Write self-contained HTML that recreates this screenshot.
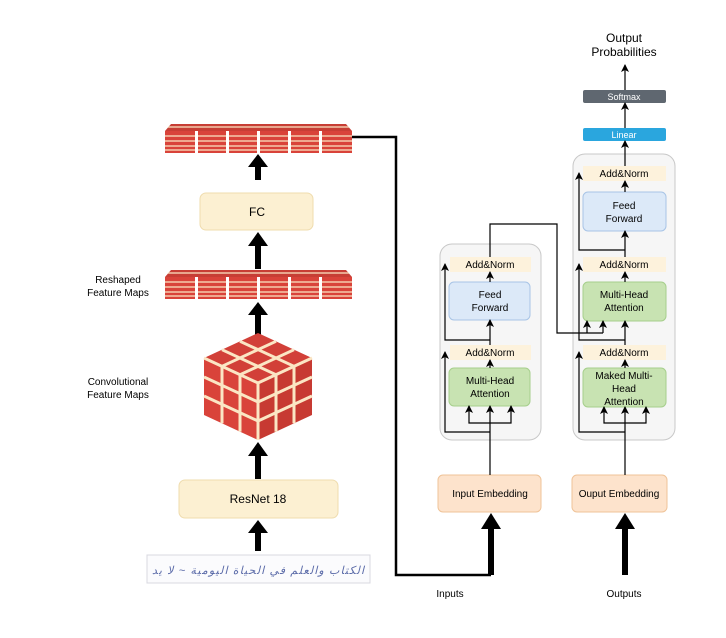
<!DOCTYPE html>
<html><head><meta charset="utf-8"><style>
body{margin:0;background:#fff}
svg{display:block;font-family:"Liberation Sans",sans-serif}
</style></head><body>
<svg width="726" height="638" viewBox="0 0 726 638" xmlns="http://www.w3.org/2000/svg">
<defs>
<marker id="a" markerWidth="8" markerHeight="8" refX="7" refY="4" orient="auto-start-reverse" markerUnits="userSpaceOnUse" viewBox="0 0 8 8">
<path d="M0,0 L8,4 L0,8 L2,4 z" fill="#000"/></marker>
<g id="slab">
<polygon points="171,0 346,0 352,7 165,7" fill="#c73e35"/>
<rect x="165" y="7" width="187" height="22" fill="#d9433a"/>
<g stroke="#fbe6c4" stroke-width="1.3">
<line x1="165" y1="12" x2="352" y2="12"/><line x1="165" y1="17" x2="352" y2="17"/><line x1="165" y1="22" x2="352" y2="22"/><line x1="165" y1="26" x2="352" y2="26"/>
<line x1="168" y1="3" x2="349" y2="3"/>
</g>
<g fill="#fff"><rect x="195" y="7" width="3" height="22"/><rect x="226" y="7" width="3" height="22"/><rect x="257" y="7" width="3" height="22"/><rect x="288" y="7" width="3" height="22"/><rect x="319" y="7" width="3" height="22"/></g>
</g>
</defs>

<use href="#slab" y="124"/>
<use href="#slab" y="270"/>
<g fill="#000">
<rect x="255" y="166" width="6" height="14"/><polygon points="248,167 258,154 268,167"/>
<rect x="255" y="245" width="6" height="24"/><polygon points="248,246 258,232 268,246"/>
<rect x="255" y="314" width="6" height="21"/><polygon points="248,315 258,302 268,315"/>
<rect x="255" y="455" width="6" height="24"/><polygon points="248,456 258,442 268,456"/>
<rect x="255" y="532" width="6" height="19"/><polygon points="248,533 258,520 268,533"/>
<rect x="488" y="528" width="6" height="47"/><polygon points="481,529 491,513 501,529"/>
<rect x="622" y="528" width="6" height="47"/><polygon points="615,529 625,513 635,529"/>
</g>
<rect x="200" y="193" width="113" height="37" rx="6" fill="#fcf0d2" stroke="#efdcae"/>
<text x="257" y="216" font-size="12" text-anchor="middle">FC</text>
<rect x="179" y="480" width="159" height="38" rx="6" fill="#fcf0d2" stroke="#efdcae"/>
<text x="258" y="503" font-size="12" text-anchor="middle">ResNet 18</text>
<polygon points="258,333 312,358 258,383 204,358" fill="#d24038"/>
<polygon points="204,358 258,383 258,440 204,415" fill="#d9433a"/>
<polygon points="258,383 312,358 312,415 258,440" fill="#c73a32"/>
<g stroke="#fbe6c4" stroke-width="3" fill="none">
<line x1="276" y1="341.3" x2="222" y2="366.3"/><line x1="294" y1="349.7" x2="240" y2="374.7"/>
<line x1="240" y1="341.3" x2="294" y2="366.3"/><line x1="222" y1="349.7" x2="276" y2="374.7"/>
<line x1="222" y1="366.3" x2="222" y2="423.3"/><line x1="240" y1="374.7" x2="240" y2="431.7"/>
<line x1="204" y1="377" x2="258" y2="402"/><line x1="204" y1="396" x2="258" y2="421"/>
<line x1="276" y1="374.7" x2="276" y2="431.7"/><line x1="294" y1="366.3" x2="294" y2="423.3"/>
<line x1="258" y1="402" x2="312" y2="377"/><line x1="258" y1="421" x2="312" y2="396"/>
<polyline points="204,358 258,383 312,358"/><line x1="258" y1="383" x2="258" y2="440"/>
</g>
<text font-size="10" text-anchor="middle"><tspan x="118" y="283">Reshaped</tspan><tspan x="118" y="296">Feature Maps</tspan></text>
<text font-size="10" text-anchor="middle"><tspan x="118" y="385">Convolutional</tspan><tspan x="118" y="398">Feature Maps</tspan></text>
<rect x="147" y="555" width="223" height="28" fill="#fbfbfd" stroke="#d8d8e0"/>
<text x="152" y="574" font-size="11" fill="#5a6aa8" font-style="italic" textLength="212">ﺍﻟﻜﺘﺎﺏ ﻭﺍﻟﻌﻠﻢ ﻓﻲ ﺍﻟﺤﻴﺎﺓ ﺍﻟﻴﻮﻣﻴﺔ ~ ﻻ ﻳﺪ</text>
<polyline points="352,137 396,137 396,575 491,575" fill="none" stroke="#000" stroke-width="2.5"/>

<rect x="440" y="244" width="101" height="196" rx="12" fill="#f6f6f6" stroke="#c8c8c8"/>
<rect x="450" y="257" width="81" height="15" fill="#fdf2dc"/>
<text x="490" y="268" font-size="10" text-anchor="middle">Add&amp;Norm</text>
<rect x="449" y="282" width="81" height="38" rx="5" fill="#dce9f8" stroke="#a8c4e6"/>
<text font-size="10" text-anchor="middle"><tspan x="490" y="298">Feed</tspan><tspan x="490" y="311">Forward</tspan></text>
<rect x="450" y="345" width="81" height="15" fill="#fdf2dc"/>
<text x="490" y="356" font-size="10" text-anchor="middle">Add&amp;Norm</text>
<rect x="449" y="368" width="81" height="38" rx="5" fill="#c8e3b2" stroke="#a6cf8c"/>
<text font-size="10" text-anchor="middle"><tspan x="490" y="384">Multi-Head</tspan><tspan x="490" y="397">Attention</tspan></text>
<rect x="438" y="475" width="103" height="37" rx="5" fill="#fde3cc" stroke="#efc398"/>
<text x="490" y="497" font-size="10" text-anchor="middle">Input Embedding</text>

<rect x="573" y="154" width="102" height="286" rx="12" fill="#f6f6f6" stroke="#c8c8c8"/>
<rect x="583" y="166" width="83" height="15" fill="#fdf2dc"/>
<text x="624" y="177" font-size="10" text-anchor="middle">Add&amp;Norm</text>
<rect x="583" y="192" width="83" height="39" rx="5" fill="#dce9f8" stroke="#a8c4e6"/>
<text font-size="10" text-anchor="middle"><tspan x="624" y="209">Feed</tspan><tspan x="624" y="222">Forward</tspan></text>
<rect x="583" y="257" width="83" height="15" fill="#fdf2dc"/>
<text x="624" y="268" font-size="10" text-anchor="middle">Add&amp;Norm</text>
<rect x="583" y="282" width="83" height="39" rx="5" fill="#c8e3b2" stroke="#a6cf8c"/>
<text font-size="10" text-anchor="middle"><tspan x="624" y="298">Multi-Head</tspan><tspan x="624" y="311">Attention</tspan></text>
<rect x="583" y="345" width="83" height="15" fill="#fdf2dc"/>
<text x="624" y="356" font-size="10" text-anchor="middle">Add&amp;Norm</text>
<rect x="583" y="368" width="83" height="39" rx="5" fill="#c8e3b2" stroke="#a6cf8c"/>
<text font-size="10" text-anchor="middle"><tspan x="624" y="379">Maked Multi-</tspan><tspan x="624" y="392">Head</tspan><tspan x="624" y="405">Attention</tspan></text>
<rect x="572" y="475" width="95" height="37" rx="5" fill="#fde3cc" stroke="#efc398"/>
<text x="619" y="497" font-size="10" text-anchor="middle">Ouput Embedding</text>
<rect x="583" y="128" width="83" height="13" rx="2" fill="#2aa6de"/>
<text x="624" y="138" font-size="9" fill="#fff" text-anchor="middle">Linear</text>
<rect x="583" y="90" width="83" height="13" rx="2" fill="#5f6770"/>
<text x="624" y="100" font-size="9" fill="#fff" text-anchor="middle">Softmax</text>
<text font-size="12" text-anchor="middle"><tspan x="624" y="42">Output</tspan><tspan x="624" y="56">Probabilities</tspan></text>
<text x="450" y="597" font-size="10" text-anchor="middle">Inputs</text>
<text x="624" y="597" font-size="10" text-anchor="middle">Outputs</text>

<g fill="none" stroke="#000" stroke-width="1.2">
<line x1="490" y1="475" x2="490" y2="406" marker-end="url(#a)"/>
<polyline points="469,406 469,423 511,423 511,406" marker-start="url(#a)" marker-end="url(#a)"/>
<polyline points="490,432 445,432 445,352" marker-end="url(#a)"/>
<line x1="490" y1="368" x2="490" y2="360" marker-end="url(#a)"/>
<line x1="490" y1="345" x2="490" y2="320" marker-end="url(#a)"/>
<polyline points="490,340 445,340 445,264" marker-end="url(#a)"/>
<line x1="490" y1="282" x2="490" y2="272" marker-end="url(#a)"/>
<polyline points="490,257 490,224 557,224 557,333 603,333"/>
<line x1="587" y1="333" x2="587" y2="321" marker-end="url(#a)"/>
<line x1="603" y1="333" x2="603" y2="321" marker-end="url(#a)"/>
<line x1="625" y1="475" x2="625" y2="407" marker-end="url(#a)"/>
<polyline points="604,407 604,423 646,423 646,407" marker-start="url(#a)" marker-end="url(#a)"/>
<polyline points="625,432 579,432 579,352" marker-end="url(#a)"/>
<line x1="625" y1="368" x2="625" y2="360" marker-end="url(#a)"/>
<line x1="625" y1="345" x2="625" y2="321" marker-end="url(#a)"/>
<polyline points="625,340 579,340 579,264" marker-end="url(#a)"/>
<line x1="625" y1="282" x2="625" y2="272" marker-end="url(#a)"/>
<line x1="625" y1="257" x2="625" y2="231" marker-end="url(#a)"/>
<polyline points="625,250 579,250 579,173" marker-end="url(#a)"/>
<line x1="625" y1="192" x2="625" y2="181" marker-end="url(#a)"/>
<line x1="625" y1="166" x2="625" y2="141" marker-end="url(#a)"/>
<line x1="625" y1="128" x2="625" y2="103" marker-end="url(#a)"/>
<line x1="625" y1="90" x2="625" y2="65" marker-end="url(#a)"/>
</g>
</svg>
</body></html>
